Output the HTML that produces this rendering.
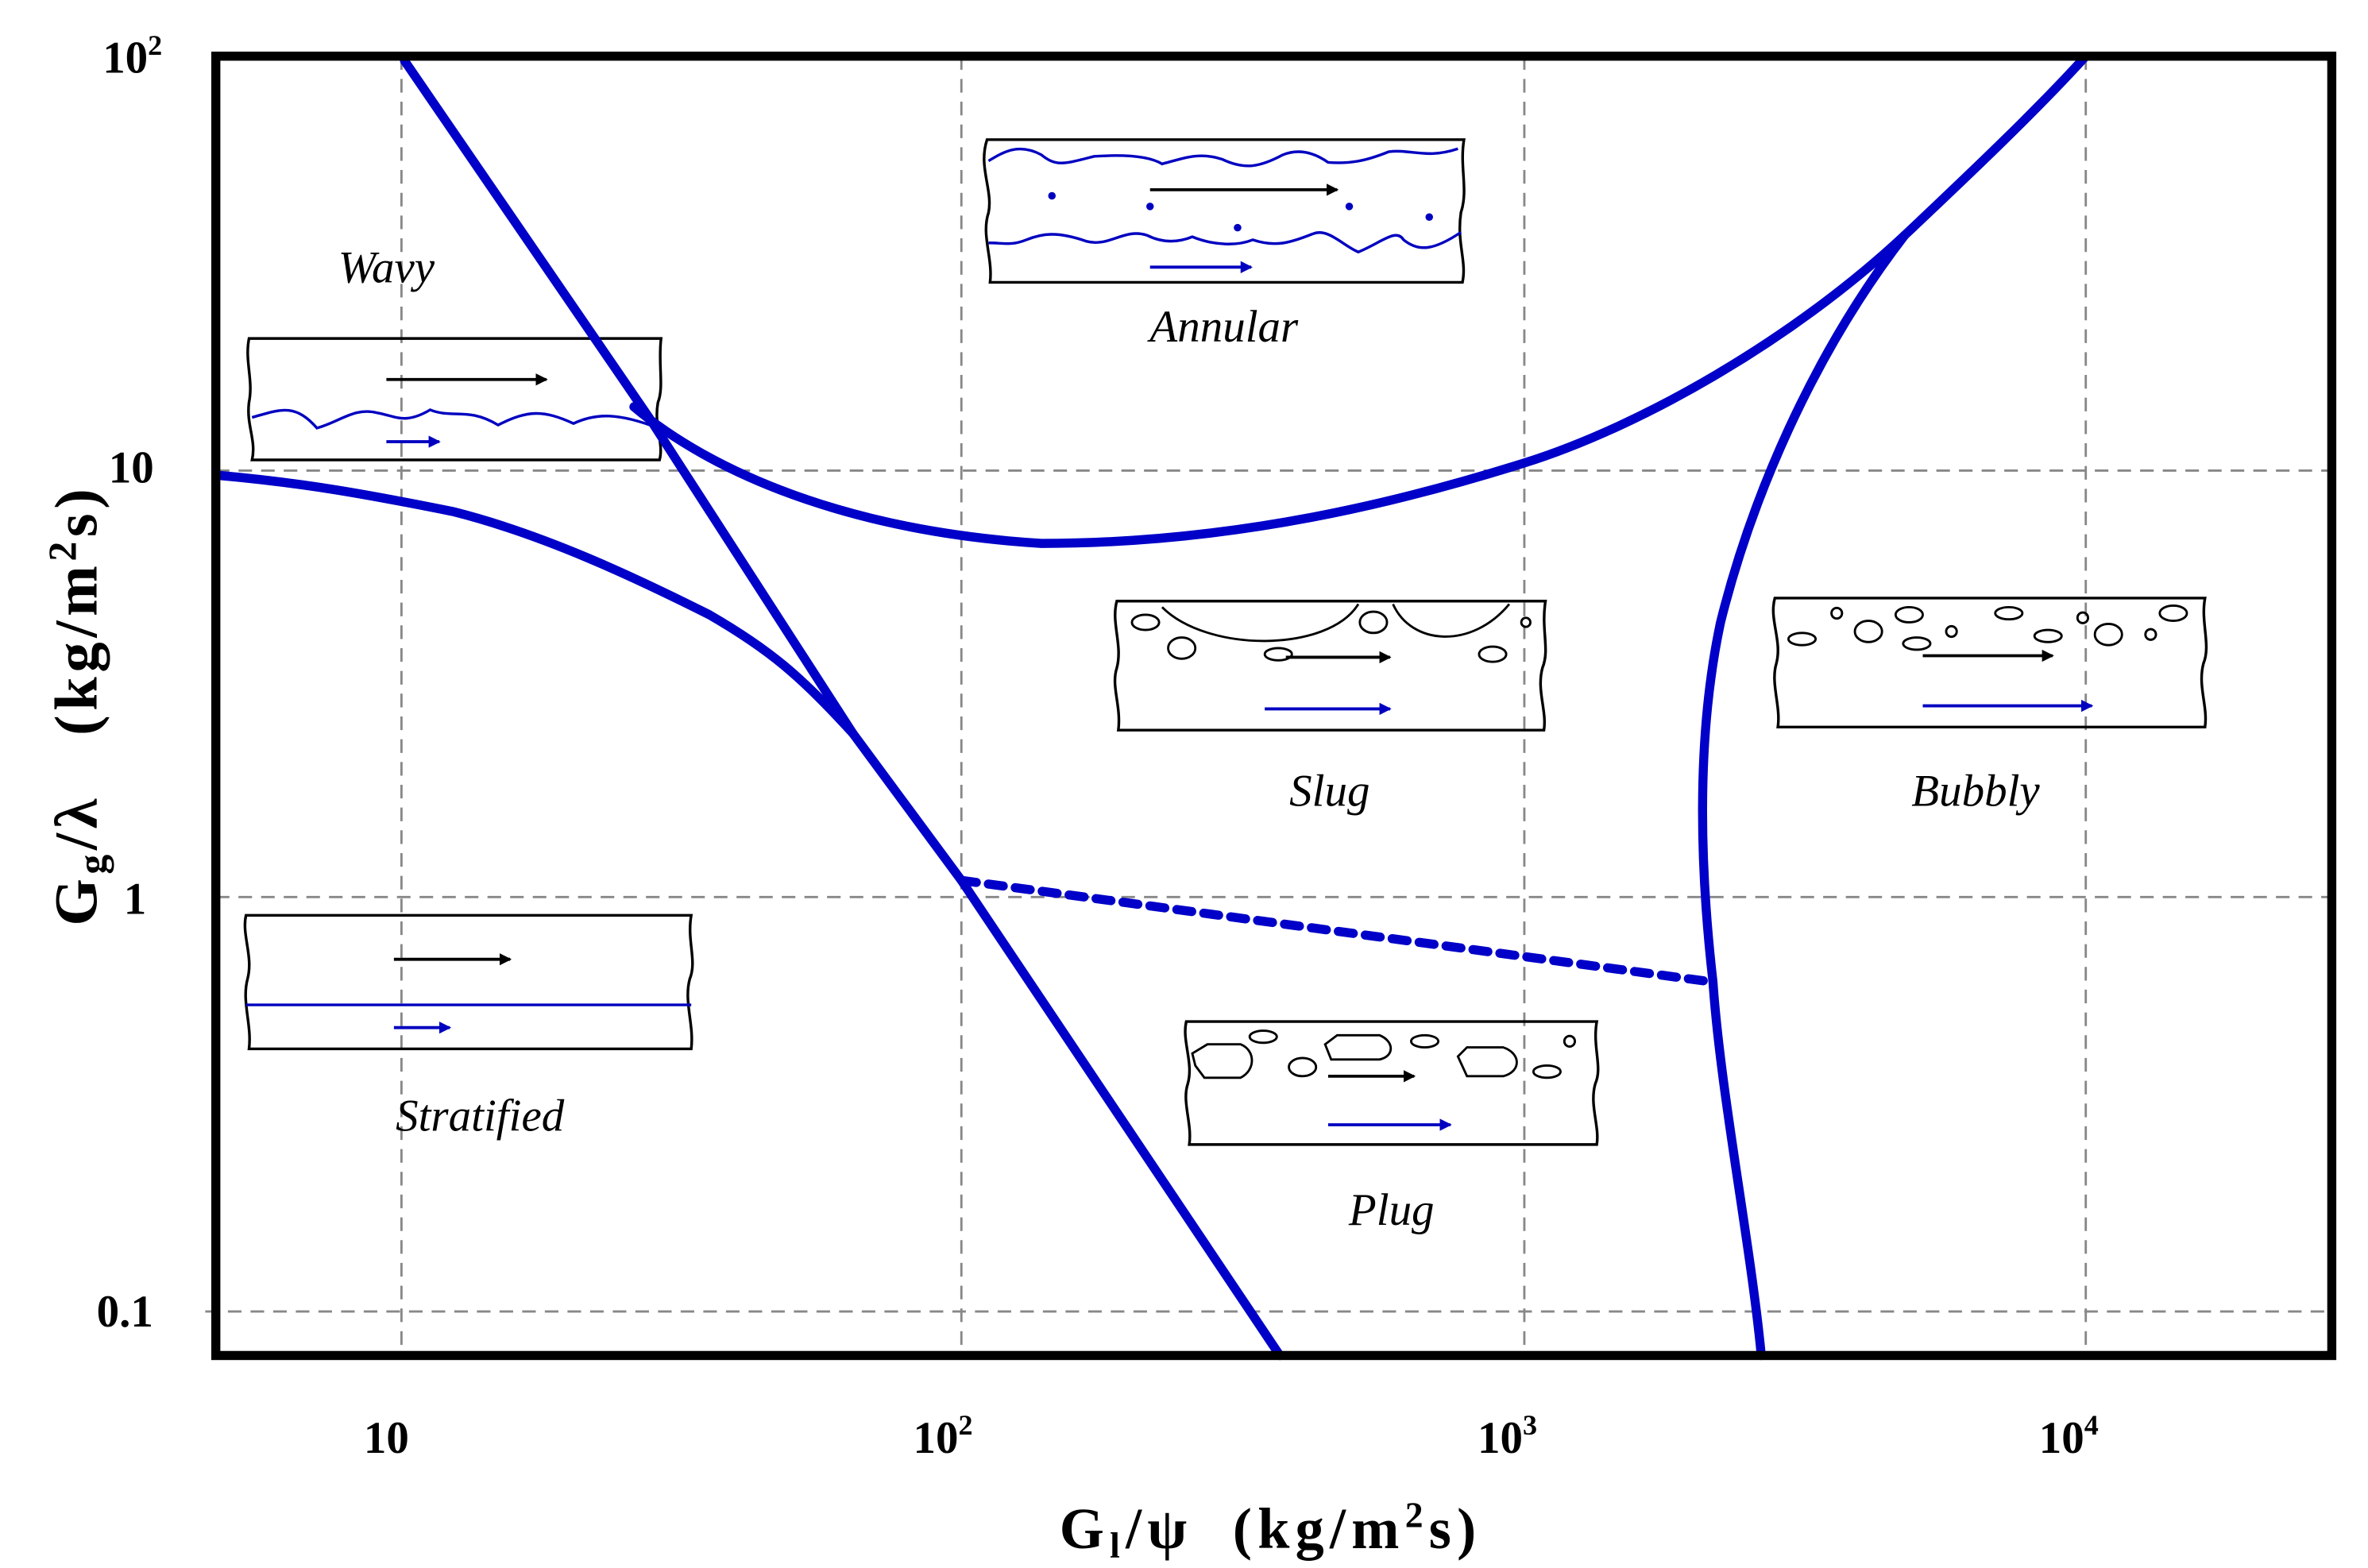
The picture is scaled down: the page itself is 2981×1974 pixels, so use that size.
<!DOCTYPE html>
<html><head><meta charset="utf-8"><style>
html,body{margin:0;padding:0;background:#fff;}
svg{display:block;}
text{font-family:"Liberation Serif",serif;}
</style></head><body>
<svg width="2981" height="1974" viewBox="0 0 1569 1033" preserveAspectRatio="none" xmlns="http://www.w3.org/2000/svg">
<defs>
<marker id="ab" markerWidth="8" markerHeight="8" refX="7" refY="4" orient="auto" markerUnits="userSpaceOnUse"><path d="M0,0 L8,4 L0,8 Z" fill="#000"/></marker>
<marker id="au" markerWidth="8" markerHeight="8" refX="7" refY="4" orient="auto" markerUnits="userSpaceOnUse"><path d="M0,0 L8,4 L0,8 Z" fill="#0000c0"/></marker>
</defs>
<rect width="1569" height="1033" fill="#fff"/>
<g stroke="#888" stroke-width="1.5" stroke-dasharray="9,6" fill="none">
<line x1="266" y1="37" x2="266" y2="893"/>
<line x1="637" y1="37" x2="637" y2="893"/>
<line x1="1010" y1="37" x2="1010" y2="893"/>
<line x1="1382" y1="37" x2="1382" y2="893"/>
<line x1="143" y1="310" x2="1545" y2="310"/>
<line x1="143" y1="591" x2="1545" y2="591"/>
<line x1="136" y1="864" x2="1545" y2="864"/>
</g>

<g fill="none" stroke="#000" stroke-width="1.8">
<path d="M165,223 H438 C436,240 440,255 436,265 C433,280 440,292 437,303 H167 C170,290 163,280 165,265 C168,250 162,238 165,223 Z"/>
<path d="M654,92 H970 C967,110 973,125 968,140 C965,160 972,172 969,186 H656 C658,170 650,155 655,140 C658,125 648,110 654,92 Z"/>
<path d="M740,396 H1024 C1021,415 1027,428 1022,440 C1018,455 1025,468 1023,481 H741 C743,465 736,452 740,440 C744,425 736,410 740,396 Z"/>
<path d="M1176,394 H1461 C1458,410 1465,425 1460,437 C1456,452 1463,465 1461,479 H1178 C1180,465 1173,450 1177,437 C1181,422 1172,408 1176,394 Z"/>
<path d="M163,603 H458 C455,620 462,633 457,645 C453,660 460,675 458,691 H165 C167,675 160,660 164,645 C168,630 160,616 163,603 Z"/>
<path d="M786,673 H1058 C1055,690 1062,703 1057,714 C1053,728 1060,742 1058,754 H788 C790,740 783,726 787,714 C791,700 783,686 786,673 Z"/>
</g>
<g stroke="#000" stroke-width="2" marker-end="url(#ab)">
<line x1="256" y1="250" x2="362" y2="250"/>
<line x1="762" y1="125" x2="886" y2="125"/>
<line x1="852" y1="433" x2="921" y2="433"/>
<line x1="1274" y1="432" x2="1360" y2="432"/>
<line x1="261" y1="632" x2="338" y2="632"/>
<line x1="880" y1="709" x2="937" y2="709"/>
</g>
<g stroke="#0000c0" stroke-width="2" marker-end="url(#au)">
<line x1="256" y1="291" x2="291" y2="291"/>
<line x1="762" y1="176" x2="829" y2="176"/>
<line x1="838" y1="467" x2="921" y2="467"/>
<line x1="1274" y1="465" x2="1386" y2="465"/>
<line x1="261" y1="677" x2="298" y2="677"/>
<line x1="880" y1="741" x2="961" y2="741"/>
</g>
<g fill="none" stroke="#0000c0" stroke-width="1.8">
<path d="M167,275 C185,270 195,265 210,282 C225,278 235,268 250,272 C262,274 268,280 285,270 C300,276 310,268 330,280 C350,270 360,270 380,279 C395,272 410,272 436,282"/>
<path d="M655,106 C665,100 675,94 690,102 C700,110 705,108 725,103 C740,102 760,102 770,108 C785,104 795,100 810,105 C825,112 835,110 850,102 C860,98 870,100 880,107 C895,108 905,106 920,100 C935,98 945,105 966,98"/>
<path d="M655,160 C665,160 670,162 680,158 C690,154 700,152 720,159 C735,163 745,150 760,155 C770,160 780,160 790,156 C805,162 820,162 830,158 C845,163 855,160 870,154 C880,150 890,162 900,166 C915,160 925,150 930,158 C940,166 950,165 968,153"/>
<line x1="163" y1="662" x2="458" y2="662"/>
</g>
<g fill="#0000c0">
<circle cx="697" cy="129" r="2.5"/><circle cx="762" cy="136" r="2.5"/><circle cx="820" cy="150" r="2.5"/><circle cx="894" cy="136" r="2.5"/><circle cx="947" cy="143" r="2.5"/>
</g>
<g fill="none" stroke="#000" stroke-width="1.5">
<path d="M770,400 C800,430 880,430 900,398"/>
<path d="M923,398 C935,425 975,428 1000,398"/>
<ellipse cx="759" cy="410" rx="9" ry="5"/><ellipse cx="783" cy="427" rx="9" ry="7"/><ellipse cx="847" cy="431" rx="9" ry="4"/><ellipse cx="910" cy="410" rx="9" ry="7"/><ellipse cx="989" cy="431" rx="9" ry="5"/><circle cx="1011" cy="410" r="3"/>
<ellipse cx="1194" cy="421" rx="9" ry="4"/><circle cx="1217" cy="404" r="3.5"/><ellipse cx="1238" cy="416" rx="9" ry="7"/><ellipse cx="1265" cy="405" rx="9" ry="5"/><ellipse cx="1270" cy="424" rx="9" ry="4"/><circle cx="1293" cy="416" r="3.5"/><ellipse cx="1331" cy="404" rx="9" ry="4"/><ellipse cx="1357" cy="419" rx="9" ry="4"/><circle cx="1380" cy="407" r="3.5"/><ellipse cx="1397" cy="418" rx="9" ry="7"/><circle cx="1425" cy="418" r="3.5"/><ellipse cx="1440" cy="404" rx="9" ry="5"/>
<path d="M790,694 L800,688 H822 C832,692 832,705 822,710 H798 L792,702 Z"/>
<ellipse cx="837" cy="683" rx="9" ry="4"/><ellipse cx="863" cy="703" rx="9" ry="6"/>
<path d="M878,688 L886,682 H914 C924,686 924,696 914,698 H882 Z"/>
<ellipse cx="944" cy="686" rx="9" ry="4"/>
<path d="M966,696 L972,690 H996 C1008,694 1008,706 996,709 H972 Z"/>
<ellipse cx="1025" cy="706" rx="9" ry="4"/><circle cx="1040" cy="686" r="3.5"/>
</g>

<g fill="none" stroke="#0000c8" stroke-width="6" stroke-linecap="round">
<path d="M268,40 L430,275 L565,483 L637,580 L848,893"/>
<path d="M420,268 C470,310 560,350 690,358 C820,358 930,330 1010,305 C1090,280 1190,222 1262,155 C1310,110 1350,72 1382,37"/>
<path d="M143,313 C200,318 240,325 300,337 C360,352 420,380 470,405 C510,428 530,445 565,483"/>
<path d="M1167,893 C1160,820 1140,720 1135,647 C1125,560 1125,480 1140,410 C1160,330 1200,235 1262,155"/>
<path d="M637,580 L1135,647" stroke-dasharray="10,8" stroke-linecap="round"/>
</g>
<rect x="143" y="37" width="1402" height="856" fill="none" stroke="#000" stroke-width="6"/>

<g font-style="italic" font-size="30" fill="#000" text-anchor="middle">
<text x="256" y="186">Wavy</text>
<text x="811" y="225">Annular</text>
<text x="881" y="531">Slug</text>
<text x="1309" y="531">Bubbly</text>
<text x="318" y="745">Stratified</text>
<text x="922" y="807">Plug</text>
</g>
<g font-weight="bold" font-size="30" fill="#000">
<text x="68" y="48">10<tspan font-size="19" dy="-12">2</tspan></text>
<text x="72" y="318">10</text>
<text x="82" y="602">1</text>
<text x="64" y="874">0.1</text>
<text x="241" y="957">10</text>
<text x="605" y="957">10<tspan font-size="19" dy="-12">2</tspan></text>
<text x="979" y="957">10<tspan font-size="19" dy="-12">3</tspan></text>
<text x="1351" y="957">10<tspan font-size="19" dy="-12">4</tspan></text>
<text x="702" y="1020" font-size="38" textLength="276" lengthAdjust="spacing" xml:space="preserve">G<tspan font-size="24" dy="6">l</tspan><tspan dy="-6">/ψ  (kg/m</tspan><tspan font-size="24" dy="-14">2</tspan><tspan dy="14">s)</tspan></text>
<text transform="translate(64,610) rotate(-90)" font-size="40" textLength="288" lengthAdjust="spacing" xml:space="preserve">G<tspan font-size="26" dy="6">g</tspan><tspan dy="-6">/λ   (kg/m</tspan><tspan font-size="26" dy="-14">2</tspan><tspan dy="14">s)</tspan></text>
</g>
</svg>
</body></html>
